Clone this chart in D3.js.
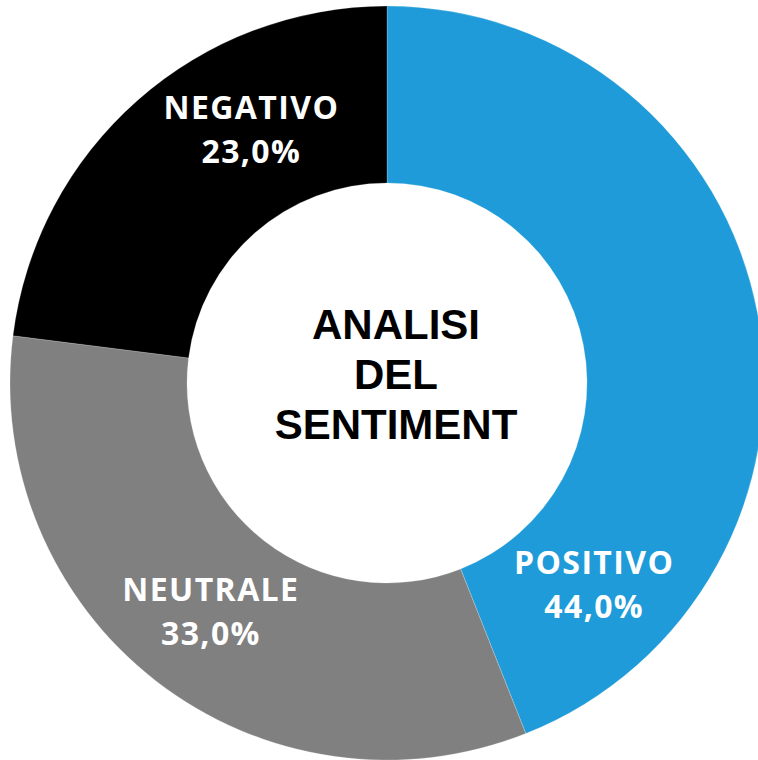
<!DOCTYPE html>
<html>
<head>
<meta charset="utf-8">
<script src="https://cdn.jsdelivr.net/npm/d3@7"></script>
<style>
  html, body { margin: 0; padding: 0; background: #fff; }
  svg { display: block; }
</style>
</head>
<body>
<svg width="758" height="760"></svg>
<script>
// sentiment slices, clockwise from 12 o'clock
var categories = ["POSITIVO", "NEUTRALE", "NEGATIVO"];
var values = [44.0, 33.0, 23.0];
var colors = ["#1e9bd8", "#808080", "#000000"];
var titleLines = ["ANALISI", "DEL", "SENTIMENT"];

var svg = d3.select("svg");
var cx = 387;
var cy = 383;
var outerR = 377;
var innerR = 200;

// labels in the original were dragged a bit off the slice centre
var labelAngle = { "POSITIVO": 134.3, "NEGATIVO": 331.8 };

var data = categories.map(function(c, i) {
    return { name: c, value: values[i], color: colors[i] };
});

var pie = d3.pie()
    .sort(null)
    .value(function(d) { return d.value; });

var arc = d3.arc()
    .innerRadius(innerR)
    .outerRadius(outerR);

var fmt = function(v) {
    return v.toFixed(1).replace(".", ",") + "%";
};

var g = svg.append("g")
    .attr("transform", "translate(" + cx + "," + cy + ")");

var arcs = pie(data);

g.selectAll("path.slice")
    .data(arcs)
    .enter()
    .append("path")
    .attr("class", "slice")
    .attr("d", arc)
    .style("fill", function(d) { return d.data.color; })
    .style("stroke", "rgba(255,255,255,0.35)")
    .style("stroke-width", 0.6);

var labels = g.selectAll("g.label")
    .data(arcs)
    .enter()
    .append("g")
    .attr("class", "label")
    .attr("transform", function(d) {
        var c = arc.centroid(d);
        var a = labelAngle[d.data.name];
        if (a !== undefined) {
            var r = (innerR + outerR) / 2;
            var rad = a * Math.PI / 180;
            c = [r * Math.sin(rad), -r * Math.cos(rad)];
        }
        return "translate(" + c[0] + "," + c[1] + ")";
    });

function labelText(sel, y, fn) {
    sel.append("text")
        .attr("text-anchor", "middle")
        .attr("y", y)
        .attr("dx", 0.7)
        .style("font-family", "'Open Sans', sans-serif")
        .style("font-weight", 700)
        .style("font-size", "32px")
        .style("letter-spacing", "1.4px")
        .style("fill", "#fff")
        .text(fn);
}

labelText(labels, -10, function(d) { return d.data.name; });
labelText(labels, 34, function(d) { return fmt(d.data.value); });

var title = svg.append("text")
    .attr("x", cx + 9)
    .attr("y", 339)
    .attr("text-anchor", "middle")
    .style("font-family", "'Liberation Sans', Arial, sans-serif")
    .style("font-weight", 700)
    .style("font-size", "42px")
    .style("fill", "#000");

title.selectAll("tspan")
    .data(titleLines)
    .enter()
    .append("tspan")
    .attr("x", cx + 9)
    .attr("dy", function(d, i) { return i === 0 ? 0 : 50; })
    .text(function(d) { return d; });
</script>
</body>
</html>
